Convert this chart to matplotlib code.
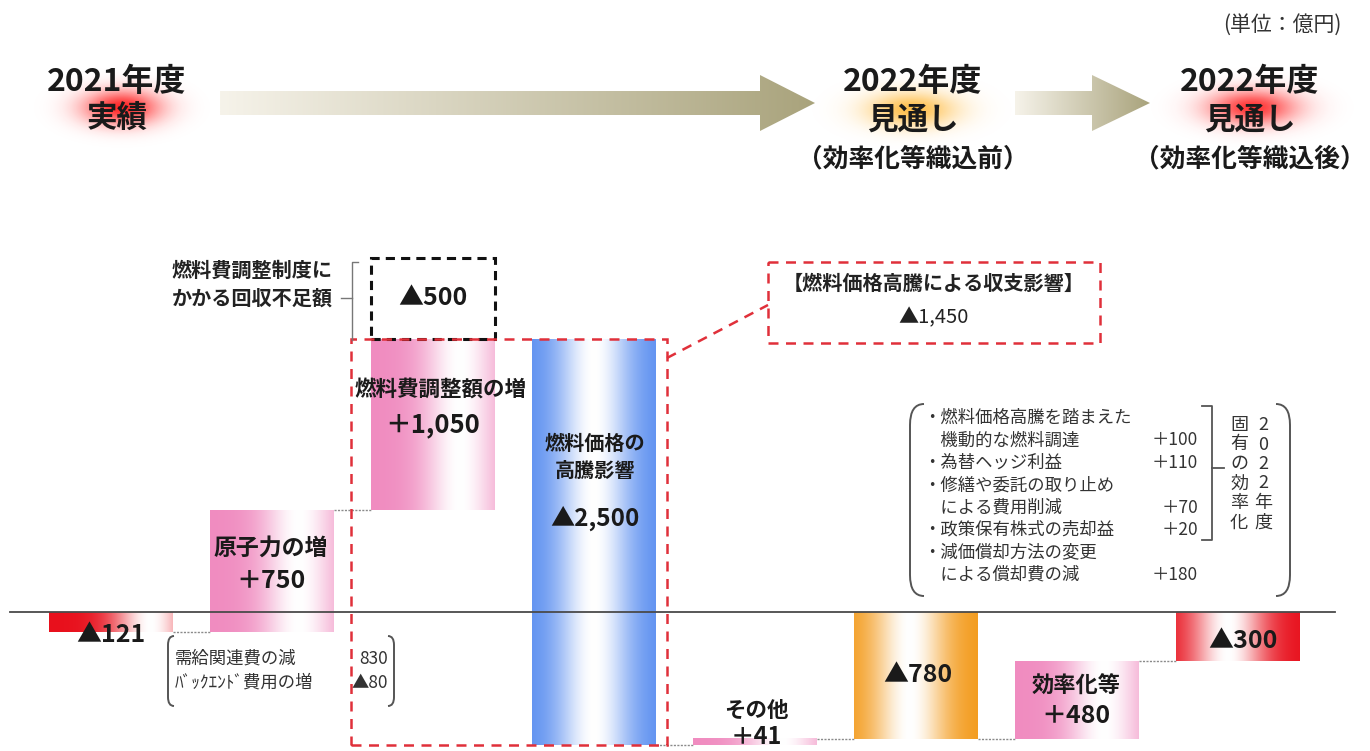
import numpy as np
import matplotlib
matplotlib.use("Agg")
import matplotlib.pyplot as plt
from matplotlib.patches import Rectangle, Polygon, PathPatch
from matplotlib.path import Path
from matplotlib.colors import to_rgb

plt.rcParams['font.family'] = ['Noto Sans CJK JP', 'DejaVu Sans']

# ---- data (億円) ----
steps = ['2021年度実績', '原子力の増', '燃料費調整額の増', '燃料価格の高騰影響',
         'その他', '2022年度見通し(効率化等織込前)', '効率化等', '2022年度見通し(効率化等織込後)']
values = [-121, 750, 1050, -2500, 41, -780, 480, -300]
is_total = [True, False, False, False, False, True, False, True]
bar_labels = ['▲121', '＋750', '＋1,050', '▲2,500', '＋41', '▲780', '＋480', '▲300']
shortfall = 500          # 燃料費調整制度にかかる回収不足額
fuel_impact = '▲1,450'   # 燃料価格高騰による収支影響
nuclear_items = [('需給関連費の減', '830'), ('ﾊﾞｯｸｴﾝﾄﾞ費用の増', '▲80')]
eff_items = [('・燃料価格高騰を踏まえた', ''), ('　機動的な燃料調達', '＋100'),
             ('・為替ヘッジ利益', '＋110'), ('・修繕や委託の取り止め', ''),
             ('　による費用削減', '＋70'), ('・政策保有株式の売却益', '＋20'),
             ('・減価償却方法の変更', ''), ('　による償却費の減', '＋180')]

bar_colors = ['#e8101c', '#f08cc0', '#f08cc0', '#5a8ef0', '#f08cc0', '#f39a1a', '#f08cc0', '#e8101c']
white_pos = [0.82, 0.72, 0.72, 0.5, 0.72, 0.45, 0.72, 0.42]

# waterfall geometry
bottoms, heights, cum = [], [], 0
for v, tot in zip(values, is_total):
    if tot:
        bottoms.append(0)
        cum = v
    else:
        bottoms.append(cum)
        cum += v
    heights.append(v)

W, H = 1370, 751
fig = plt.figure(figsize=(W / 100, H / 100), dpi=100)

# data axes (bars)
ax = fig.add_axes([0, 0, 1, 1])
ax.patch.set_alpha(0)
ax.axis('off')
ax.set_zorder(1)
x0px, dxpx, y0px, scale = 111, 161, 612, 0.1624
xlim = (-x0px / dxpx, (W - x0px) / dxpx)
ylim = ((y0px - H) / scale, y0px / scale)

# pixel-space axes for header / annotations, drawn above the bars
axd = fig.add_axes([0, 0, 1, 1])
axd.set_xlim(0, W)
axd.set_ylim(H, 0)
axd.axis('off')
axd.patch.set_alpha(0)
axd.set_zorder(2)


def hgrad(color, center, width=0.3, n=256):
    t = np.linspace(0, 1, n)
    w = np.exp(-((t - center) / width) ** 2)
    c = np.array(to_rgb(color))
    rgb = c[None, :] * (1 - w[:, None]) + w[:, None]
    return rgb[None, :, :]


x = np.arange(len(values))
bw = 0.765
bars = ax.bar(x, heights, bottom=bottoms, width=bw, color='none', edgecolor='none')
for rect, col, wp in zip(bars, bar_colors, white_pos):
    bx, by, bwid, bh = rect.get_x(), rect.get_y(), rect.get_width(), rect.get_height()
    ax.imshow(hgrad(col, wp), extent=[bx, bx + bwid, by, by + bh], aspect='auto', zorder=2)

# connectors
conn_c = '#8a8a8a'
for i in range(len(values) - 1):
    if i == 2:
        continue
    lvl = values[i] if is_total[i] else bottoms[i] + heights[i]
    if i == 5:
        lvl = bottoms[6]
    ax.plot([i + bw / 2, i + 1 - bw / 2], [lvl, lvl], color=conn_c, lw=1, ls=(0, (1.5, 1)), zorder=1)

ax.axhline(0, xmin=10 / W, xmax=1335 / W, color='#4a4a4a', lw=1.3, zorder=3)

# shortfall box (black dashed) above fuel-adjust bar
top2 = bottoms[2] + heights[2]
ax.add_patch(Rectangle((2 - bw / 2, top2), bw, shortfall, fill=False, ec='#111111',
                       lw=2.2, ls=(0, (3, 2)), zorder=4))
# red dashed region around the fuel price effect
rl, rr = 2 - bw / 2 - 0.125, 3 + bw / 2 + 0.07
rb = bottoms[3] + heights[3]
ax.add_patch(Rectangle((rl, rb), rr - rl, top2 - rb, fill=False, ec='#e0303a', lw=1.8,
                       ls=(0, (4, 3)), zorder=4))
ax.set_xlim(*xlim)
ax.set_ylim(*ylim)


# ---- header ----
def glow(cx, cy, rx, ry, color, a=0.9):
    gx = np.linspace(-2.2, 2.2, 200)
    gy = np.linspace(-2.2, 2.2, 120)
    X, Y = np.meshgrid(gx, gy)
    img = np.zeros((120, 200, 4))
    img[..., :3] = to_rgb(color)
    img[..., 3] = a * np.exp(-(X ** 2 + Y ** 2) * 1.6)
    axd.imshow(img, extent=[cx - 2.2 * rx, cx + 2.2 * rx, cy + 2.2 * ry, cy - 2.2 * ry],
               aspect='auto', zorder=1, interpolation='bilinear')


glow(122, 108, 48, 22, '#ff1010')
glow(912, 110, 55, 22, '#ffb020', 0.8)
glow(1252, 108, 55, 22, '#ff2020')


def arrow(x_start, x_head, x_tip, yc=103):
    pts = [(x_start, yc - 12), (x_head, yc - 12), (x_head, yc - 28), (x_tip, yc),
           (x_head, yc + 28), (x_head, yc + 12), (x_start, yc + 12)]
    poly = Polygon(pts, closed=True, fc='none', ec='none')
    axd.add_patch(poly)
    t = np.linspace(0, 1, 256)
    c0, c1 = np.array(to_rgb('#f6f3ea')), np.array(to_rgb('#a9a37c'))
    g = (c0[None, :] * (1 - t[:, None]) + c1[None, :] * t[:, None])[None, :, :]
    im = axd.imshow(g, extent=[x_start, x_tip, yc + 28, yc - 28], aspect='auto', zorder=2)
    im.set_clip_path(poly)


arrow(220, 760, 815)
arrow(1015, 1092, 1150)

hdr = dict(ha='center', va='center', fontweight='bold', color='#1a1a1a', zorder=5)
axd.text(117, 82, '2021年度', fontsize=23, **hdr)
axd.text(117, 119, '実績', fontsize=22, **hdr)
for cx, sub in [(913, '（効率化等織込前）'), (1250, '（効率化等織込後）')]:
    axd.text(cx, 82, '2022年度', fontsize=23, **hdr)
    axd.text(cx, 120, '見通し', fontsize=22, **hdr)
    axd.text(cx, 159, sub, fontsize=18.5, **hdr)
axd.text(1342, 25, '(単位：億円)', ha='right', va='center', fontsize=15, color='#333333')

# ---- bar labels ----
lb = dict(ha='center', va='center', fontweight='bold', color='#1a1a1a', zorder=6)
axd.text(111, 635, bar_labels[0], fontsize=18, **lb)
axd.text(271, 548, steps[1], fontsize=16.5, **lb)
axd.text(271, 581, bar_labels[1], fontsize=18, **lb)
axd.text(441, 390, steps[2], fontsize=15.5, **lb)
axd.text(433, 425, bar_labels[2], fontsize=18.5, **lb)
axd.text(595, 443, '燃料価格の', fontsize=14.5, **lb)
axd.text(595, 470, '高騰影響', fontsize=14.5, **lb)
axd.text(595, 518, bar_labels[3], fontsize=17.5, **lb)
axd.text(756, 710, steps[4], fontsize=15.5, **lb)
axd.text(756, 737, bar_labels[4], fontsize=17, **lb)
axd.text(918, 675, bar_labels[5], fontsize=18, **lb)
axd.text(1076, 686, steps[6], fontsize=16, **lb)
axd.text(1076, 716, bar_labels[6], fontsize=18, **lb)
axd.text(1243, 641, bar_labels[7], fontsize=18, **lb)
axd.text(433, 298, '▲' + str(shortfall), fontsize=18, **lb)

# shortfall label + bracket
axd.text(333, 270, '燃料費調整制度に', ha='right', va='center', fontsize=14.5,
         fontweight='bold', color='#222222')
axd.text(333, 298, 'かかる回収不足額', ha='right', va='center', fontsize=14.5,
         fontweight='bold', color='#222222')
axd.plot([358, 352, 352], [262, 262, 340], color='#777777', lw=1)
axd.plot([341, 352], [298, 298], color='#777777', lw=1)

# fuel impact callout
axd.plot([667, 768], [358, 305], color='#e0303a', lw=1.8, ls=(0, (4, 3)))
axd.add_patch(Rectangle((768, 262), 332, 81, fill=False, ec='#e0303a', lw=1.8, ls=(0, (4, 3))))
axd.text(934, 283, '【燃料価格高騰による収支影響】', ha='center', va='center', fontsize=14.5,
         fontweight='bold', color='#222222')
axd.text(934, 318, fuel_impact, ha='center', va='center', fontsize=14.5, color='#222222')


def bracket(xl, xr, yt, yb, curve=7):
    for xe, s in [(xl, 1), (xr, -1)]:
        verts = [(xe + s * curve, yt), (xe, yt), (xe, yt + curve * 1.5),
                 (xe, yb - curve * 1.5), (xe, yb), (xe + s * curve, yb)]
        codes = [Path.MOVETO, Path.CURVE3, Path.CURVE3, Path.LINETO, Path.CURVE3, Path.CURVE3]
        axd.add_patch(PathPatch(Path(verts, codes), fc='none', ec='#555555', lw=1.4))


# nuclear breakdown
bracket(168, 394, 636, 706, curve=6)
for i, (name, val) in enumerate(nuclear_items):
    yy = 659 + 24 * i
    axd.text(175, yy, name, ha='left', va='center', fontsize=12.5, color='#333333')
    axd.text(388, yy, val, ha='right', va='center', fontsize=12.5, color='#333333')

# efficiency breakdown
bracket(910, 1290, 404, 596, curve=14)
for i, (name, val) in enumerate(eff_items):
    yy = 418 + 22.4 * i
    axd.text(923, yy, name, ha='left', va='center', fontsize=12.5, color='#333333')
    if val:
        axd.text(1198, yy, val, ha='right', va='center', fontsize=12.5, color='#333333')
axd.plot([1202, 1212, 1212, 1202], [406, 406, 540, 540], color='#555555', lw=1.3)
axd.plot([1212, 1224], [468, 468], color='#555555', lw=1.3)
for j, ch in enumerate('固有の効率化'):
    axd.text(1239, 425 + 19.5 * j, ch, ha='center', va='center', fontsize=13, color='#333333')
for j, ch in enumerate('2022年度'):
    axd.text(1263, 425 + 19.5 * j, ch, ha='center', va='center', fontsize=13, color='#333333')

fig.savefig('out.png', dpi=100)
